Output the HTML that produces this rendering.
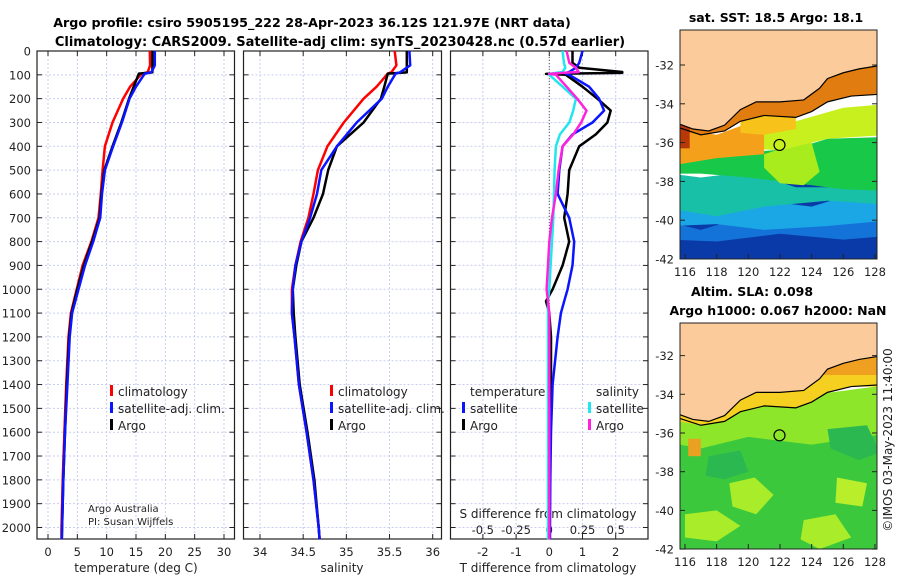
<!DOCTYPE html>
<html><head><meta charset="utf-8"><style>
body{margin:0;background:#fff;}
svg{display:block;font-family:"DejaVu Sans","Liberation Sans",sans-serif;}
</style></head><body>
<svg id="c" width="900" height="580" xmlns="http://www.w3.org/2000/svg">
<text x="312" y="27" text-anchor="middle" font-size="12.7" font-weight="bold">Argo profile: csiro 5905195_222 28-Apr-2023 36.12S 121.97E (NRT data)</text>
<text x="340" y="46" text-anchor="middle" font-size="13" font-weight="bold">Climatology: CARS2009. Satellite-adj clim: synTS_20230428.nc (0.57d earlier)</text>
<text x="776" y="22" text-anchor="middle" font-size="12.5" font-weight="bold">sat. SST: 18.5 Argo: 18.1</text>
<text x="752" y="296" text-anchor="middle" font-size="12.5" font-weight="bold">Altim. SLA: 0.098</text>
<text x="778" y="315" text-anchor="middle" font-size="12.5" font-weight="bold">Argo h1000: 0.067 h2000: NaN</text>
<text transform="translate(892,440) rotate(-90)" text-anchor="middle" font-size="12" fill="#222">©IMOS 03-May-2023 11:40:00</text>
<g id="g"></g>
</svg>
<script>
// ---- data ----
const depthT = [0,60,90,95,150,200,300,400,500,600,700,800,900,1000,1100,1200,1400,1600,1800,2000,2050];
const tempArgo = [17.8,17.8,17.8,15.5,14.6,13.8,12.5,11.0,9.6,9.1,8.8,7.5,6.1,5.0,4.0,3.6,3.2,2.9,2.6,2.4,2.35];
const tempClim = [17.35,17.4,17.0,16.0,14.0,12.8,11.0,9.7,9.3,9.0,8.6,7.4,5.9,4.9,3.9,3.5,3.1,2.8,2.5,2.3,2.3];
const tempSat  = [18.2,18.2,17.6,16.5,15.0,13.9,12.6,11.1,9.7,9.2,8.9,7.7,6.3,5.2,4.1,3.7,3.3,2.9,2.6,2.4,2.35];
const salArgo = [35.70,35.70,35.70,35.48,35.44,35.40,35.20,34.89,34.79,34.73,34.62,34.48,34.42,34.38,34.39,34.41,34.46,34.55,34.63,34.68,34.69];
const salClim = [35.56,35.58,35.52,35.48,35.35,35.20,34.97,34.78,34.67,34.62,34.56,34.47,34.41,34.37,34.37,34.40,34.45,34.54,34.62,34.68,34.69];
const salSat  = [35.73,35.74,35.62,35.57,35.48,35.41,35.12,34.89,34.71,34.66,34.58,34.48,34.41,34.38,34.37,34.40,34.45,34.54,34.62,34.68,34.69];
const depthD = [0,50,70,88,92,96,100,150,200,250,300,350,400,500,600,700,800,900,1000,1050,1100,1200,1400,1600,1800,2000,2050];
const dTArgo = [0.7,0.7,0.9,2.2,2.2,-0.1,0.5,1.0,1.45,1.85,1.75,1.4,0.9,0.6,0.55,0.45,0.6,0.4,0.1,-0.1,0.0,0.05,0.05,0.0,0.0,0.0,0.0];
const dTSat  = [1.0,0.9,0.8,0.6,0.5,0.5,0.6,1.2,1.5,1.65,1.3,0.7,0.4,0.3,0.25,0.6,0.75,0.7,0.55,0.45,0.35,0.25,0.1,0.05,0.03,0.02,0.02];
const dSArgo = [0.13,0.15,0.2,0.22,0.1,0.0,0.05,0.13,0.21,0.28,0.24,0.18,0.1,0.07,0.05,0.02,0.0,-0.01,-0.02,-0.01,0.0,0.0,0.0,0.0,0.0,0.0,0.0];
const dSSat  = [0.1,0.11,0.12,0.1,0.05,0.0,0.0,0.1,0.2,0.18,0.15,0.08,0.05,0.04,0.035,0.03,0.02,0.01,0.0,-0.01,-0.01,-0.01,-0.01,-0.01,-0.01,-0.01,-0.01];
const depthTicks = [0,100,200,300,400,500,600,700,800,900,1000,1100,1200,1300,1400,1500,1600,1700,1800,1900,2000];
const tempTicks = [0,5,10,15,20,25,30];
const salTicks = [34,34.5,35,35.5,36];
const dTTicks = [-2,-1,0,1,2];
const dSTicks = [-0.5,-0.25,0,0.25,0.5];
const dSTickLabels = ["-0.5","-0.25","0","0.25","0.5"];
const latTicks = [-32,-34,-36,-38,-40,-42];
const lonTicks = [116,118,120,122,124,126,128];

const NS="http://www.w3.org/2000/svg";
const G=document.getElementById('g');
function el(tag,attrs,parent){const e=document.createElementNS(NS,tag);for(const k in attrs)e.setAttribute(k,attrs[k]);(parent||G).appendChild(e);return e;}
function tx(str,x,y,opts,parent){const e=el('text',Object.assign({x:x,y:y,'font-size':12,fill:'#222'},opts||{}),parent);e.textContent=str;return e;}

const yD = d => 51 + d*(527.5-51)/2000;
const P1={l:37,r:234.5,x:v=>48+v*(224-48)/30};
const P2={l:243.5,r:441.5,x:v=>260+(v-34)*(432.7-260)/2};
const P3={l:450.5,r:648,x:v=>549.3+v*33.2};
const xS = v => 549.3 + v*133;
const TOP=51, BOT=539;

function frame(P,xt,xfun,name){
  const g=el('g',{});
  
  
  xt.forEach(v=>{const l=el('line',{x1:xfun(v),x2:xfun(v),y1:TOP,y2:BOT,stroke:'#c9cdef','stroke-width':1,'stroke-dasharray':'2,2'},g);
    
    });
  depthTicks.forEach(d=>{const l=el('line',{x1:P.l,x2:P.r,y1:yD(d),y2:yD(d),stroke:'#c9cdef','stroke-width':1,'stroke-dasharray':'2,2'},g);
    
    
    el('line',{x1:P.l,x2:P.l+5,y1:yD(d),y2:yD(d),stroke:'#222'},g);
    el('line',{x1:P.r-5,x2:P.r,y1:yD(d),y2:yD(d),stroke:'#222'},g);});
  xt.forEach(v=>{el('line',{x1:xfun(v),x2:xfun(v),y1:BOT-5,y2:BOT,stroke:'#222'},g);el('line',{x1:xfun(v),x2:xfun(v),y1:TOP,y2:TOP+5,stroke:'#222'},g);});
  const r=el('rect',{x:P.l,y:TOP,width:P.r-P.l,height:BOT-TOP,fill:'none',stroke:'#222','stroke-width':1.2},g);
  
  
  return g;
}
function line(xs,ds,xf,color,w,name){
  const pts=xs.map((v,i)=>xf(v).toFixed(1)+','+yD(ds[i]).toFixed(1)).join(' ');
  const p=el('polyline',{points:pts,fill:'none',stroke:color,'stroke-width':w||2.5,'stroke-linejoin':'round'});
  
  
}
frame(P1,tempTicks,P1.x,'temperature-panel');
frame(P2,salTicks,P2.x,'salinity-panel');
frame(P3,dTTicks,P3.x,'difference-panel');
const z=el('line',{x1:P3.x(0),x2:P3.x(0),y1:TOP,y2:BOT,stroke:'#555','stroke-dasharray':'1,2'});


depthTicks.forEach(d=>{const t=tx(String(d),31,yD(d)+4.5,{'text-anchor':'end','font-size':11.5});
  
  });
tempTicks.forEach(v=>{const t=tx(String(v),P1.x(v),556,{'text-anchor':'middle','font-size':11.5});
  
  });
salTicks.forEach(v=>{const t=tx(String(v),P2.x(v),556,{'text-anchor':'middle','font-size':11.5});
  
  });
dTTicks.forEach(v=>{const t=tx(String(v),P3.x(v),556,{'text-anchor':'middle','font-size':11.5});
  
  });
dSTicks.forEach((v,i)=>{const t=tx(dSTickLabels[i],xS(v),534,{'text-anchor':'middle','font-size':11.5});
  
  });
let t;
t=tx('temperature (deg C)',136,572,{'text-anchor':'middle'});
t=tx('salinity',342,572,{'text-anchor':'middle'});
t=tx('T difference from climatology',548,572,{'text-anchor':'middle'});
t=tx('S difference from climatology',548,518,{'text-anchor':'middle'});
t=tx('Argo Australia',88,512,{'font-size':10});
t=tx('PI: Susan Wijffels',88,525,{'font-size':10});

line(tempClim,depthT,P1.x,'#ff0000',2.5,'temperature-climatology-line');
line(tempArgo,depthT,P1.x,'#000000',2.5,'temperature-argo-line');
line(tempSat,depthT,P1.x,'#0a14ff',2.5,'temperature-satellite-line');
line(salClim,depthT,P2.x,'#ff0000',2.5,'salinity-climatology-line');
line(salArgo,depthT,P2.x,'#000000',2.5,'salinity-argo-line');
line(salSat,depthT,P2.x,'#0a14ff',2.5,'salinity-satellite-line');
line(dTArgo,depthD,P3.x,'#000000',2.5,'t-diff-argo-line');
line(dTSat,depthD,P3.x,'#0a14ff',2.5,'t-diff-satellite-line');
line(dSSat,depthD,xS,'#22e5ee',2.5,'s-diff-satellite-line');
line(dSArgo,depthD,xS,'#ff22dd',2.5,'s-diff-argo-line');

function leg(x,y,color,label,name){
  const g=el('g',{});
  
  
  el('rect',{x:x,y:y-11,width:3,height:11,fill:color},g);
  tx(label,x+8,y,{},g);
}
leg(110,396,'#ff0000','climatology','legend-entry-climatology');
leg(110,413,'#0a14ff','satellite-adj. clim.','legend-entry-satellite');
leg(110,430,'#000','Argo','legend-entry-argo');
leg(330,396,'#ff0000','climatology','legend-entry-climatology-2');
leg(330,413,'#0a14ff','satellite-adj. clim.','legend-entry-satellite-2');
leg(330,430,'#000','Argo','legend-entry-argo-2');
t=tx('temperature',470,396);
leg(462,413,'#0a14ff','satellite','legend-t-satellite');
leg(462,430,'#000','Argo','legend-t-argo');
t=tx('salinity',596,396);
leg(588,413,'#22e5ee','satellite','legend-s-satellite');
leg(588,430,'#ff22dd','Argo','legend-s-argo');

function map(M,name,bands){
  const g=el('g',{});
  
  
  const X=lon=>685+(lon-116)*15.83, Y=lat=>M.y32+(-32-lat)*M.s;
  const cp='clip'+name;
  const cl=el('clipPath',{id:cp},g);el('rect',{x:680,y:M.top,width:197,height:M.bot-M.top},cl);
  const ig=el('g',{'clip-path':'url(#'+cp+')'},g);
  bands.forEach(b=>{
    const pts=b.pts.map(p=>X(p[0]).toFixed(1)+','+Y(p[1]).toFixed(1)).join(' ');
    el('polygon',{points:pts,fill:b.c},ig);
  });
  const coast=[[115.5,-35.0],[116.5,-35.3],[117.5,-35.4],[118.5,-35.1],[119.5,-34.3],[120.5,-33.9],[122,-33.9],[123.5,-33.8],[124.5,-33.2],[125,-32.7],[126,-32.4],[127,-32.2],[128.5,-32.0]];
  const shelf=[[115.5,-35.2],[117,-35.6],[118.5,-35.4],[119.5,-34.9],[121,-34.6],[123,-34.7],[124,-34.4],[125,-33.9],[126.5,-33.6],[128.5,-33.5]];
  const land=coast.concat([[128.5,-30],[115.5,-30]]);
  el('polygon',{points:land.map(p=>X(p[0])+','+Y(p[1])).join(' '),fill:'#fccb9c'},ig);
  el('polyline',{points:coast.map(p=>X(p[0])+','+Y(p[1])).join(' '),fill:'none',stroke:'#000','stroke-width':1.2},ig);
  el('polyline',{points:shelf.map(p=>X(p[0])+','+Y(p[1])).join(' '),fill:'none',stroke:'#000','stroke-width':1.2},ig);
  const mk=el('circle',{cx:X(121.97),cy:Y(-36.12),r:5.5,fill:'none',stroke:'#000','stroke-width':1.2},ig);
  
  
  el('rect',{x:680,y:M.top,width:197,height:M.bot-M.top,fill:'none',stroke:'#222'},g);
  latTicks.forEach(v=>{el('line',{x1:680,x2:685,y1:Y(v),y2:Y(v),stroke:'#222'},g);el('line',{x1:872,x2:877,y1:Y(v),y2:Y(v),stroke:'#222'},g);
    const l=tx(String(v),674,Y(v)+4.5,{'text-anchor':'end','font-size':11.5},g);
    
    });
  lonTicks.forEach(v=>{el('line',{x1:X(v),x2:X(v),y1:M.bot-5,y2:M.bot,stroke:'#222'},g);
    const l=tx(String(v),X(v),M.bot+17,{'text-anchor':'middle','font-size':11.5},g);
    
    });
}
function box(a,b,c,d){return [[a,b],[c,b],[c,d],[a,d]];}
map({y32:65,s:19.4,top:30,bot:259},'sst-map',[
  {c:'#0a3aa8',pts:box(115,-38,129,-43)},
  {c:'#1473d8',pts:[[115,-40.1],[117,-40.5],[119,-40.0],[121,-40.4],[123,-39.9],[125,-40.2],[129,-39.9],[129,-40.8],[126,-41.0],[122,-40.7],[118,-41.1],[115,-41.0]]},
  {c:'#1ba6e6',pts:[[115,-39.3],[118,-39.6],[121,-39.0],[124,-39.3],[126,-38.8],[129,-39.0],[129,-40.0],[125,-40.3],[121,-40.5],[118,-40.2],[115,-40.3]]},
  {c:'#18c0a8',pts:[[115,-37.6],[117,-37.8],[120,-37.5],[123,-38.3],[126,-38.3],[129,-38.4],[129,-39.2],[125,-39.0],[121,-39.3],[118,-39.8],[115,-39.4]]},
  {c:'#18c848',pts:[[115,-37.0],[118,-36.6],[120,-36.5],[123,-36.3],[125,-35.8],[129,-35.7],[129,-38.5],[126,-38.4],[124,-38.2],[122,-38.0],[120,-37.8],[117,-37.6],[115,-37.6]]},
  {c:'#a8ec1e',pts:[[121,-36.6],[122.5,-36.2],[124,-36.0],[124.5,-37.5],[123.5,-38.2],[122,-38.1],[121,-37.3]]},
  {c:'#c8f01e',pts:[[120,-35.0],[123,-34.9],[126,-34.2],[129,-34],[129,-35.6],[125,-35.8],[122,-36.4],[120,-36.3]]},
  {c:'#f5a01a',pts:[[115,-35.2],[118,-35.6],[120,-35.0],[121,-35.2],[121,-36.6],[118,-36.8],[115,-37.2]]},
  {c:'#f7c21a',pts:[[119.5,-34.9],[121,-34.6],[123,-34.7],[123,-35.3],[121,-35.6],[119.5,-35.5]]},
  {c:'#e07c10',pts:[[115,-34.8],[117,-35.3],[118.5,-35.1],[119.5,-34.3],[120.5,-33.8],[122,-33.8],[123.5,-33.6],[124.5,-33.0],[125,-32.6],[126,-32.2],[129,-31.8],[129,-33.5],[126.5,-33.6],[125,-33.9],[124,-34.4],[123,-34.7],[121,-34.6],[119.5,-34.9],[118.5,-35.4],[117,-35.6],[115,-35.3]]},
  {c:'#b83808',pts:box(115,-35,116.3,-36.3)}
]);
map({y32:355.6,s:19.35,top:323,bot:549},'sla-map',[
  {c:'#3cc83c',pts:box(115,-34,129,-43)},
  {c:'#8ee62a',pts:[[115,-35],[129,-33.5],[129,-36],[124,-36.6],[120,-36.2],[117,-36.8],[115,-36.5]]},
  {c:'#a8ec2a',pts:[[118.8,-38.6],[120.4,-38.3],[121.6,-39.2],[120.5,-40.2],[119,-39.8]]},
  {c:'#b8ee2a',pts:[[125.6,-38.3],[127.5,-38.6],[127.2,-39.8],[125.5,-39.6]]},
  {c:'#a8ec2a',pts:[[116,-40.2],[118,-40.0],[119.5,-40.8],[118,-41.6],[116,-41.4]]},
  {c:'#a8ec2a',pts:[[123.5,-40.5],[125.5,-40.2],[126.5,-41.4],[124.5,-42],[123.3,-41.5]]},
  {c:'#2cb850',pts:[[117.5,-37.2],[119.5,-36.9],[120,-38.0],[118.5,-38.4],[117.3,-38.2]]},
  {c:'#2cb850',pts:[[125,-35.8],[127.5,-35.6],[128.3,-37],[127,-37.4],[125.2,-36.8]]},
  {c:'#eaa020',pts:box(116.2,-36.3,117.0,-37.2)},
  {c:'#f5d020',pts:[[115,-34.6],[117,-35.3],[118.5,-35.1],[119.5,-34.3],[120.5,-33.8],[122,-33.8],[124.5,-33.0],[126,-32.2],[129,-31.8],[129,-33.6],[126.5,-33.6],[125,-33.9],[124,-34.4],[123,-34.7],[121,-34.6],[119.5,-34.9],[118.5,-35.4],[117,-35.6],[115,-35.3]]},
  {c:'#f0a020',pts:[[124.5,-33.0],[126,-32.2],[129,-31.8],[129,-33.0],[126,-33.0]]}
]);
</script>
</body></html>
